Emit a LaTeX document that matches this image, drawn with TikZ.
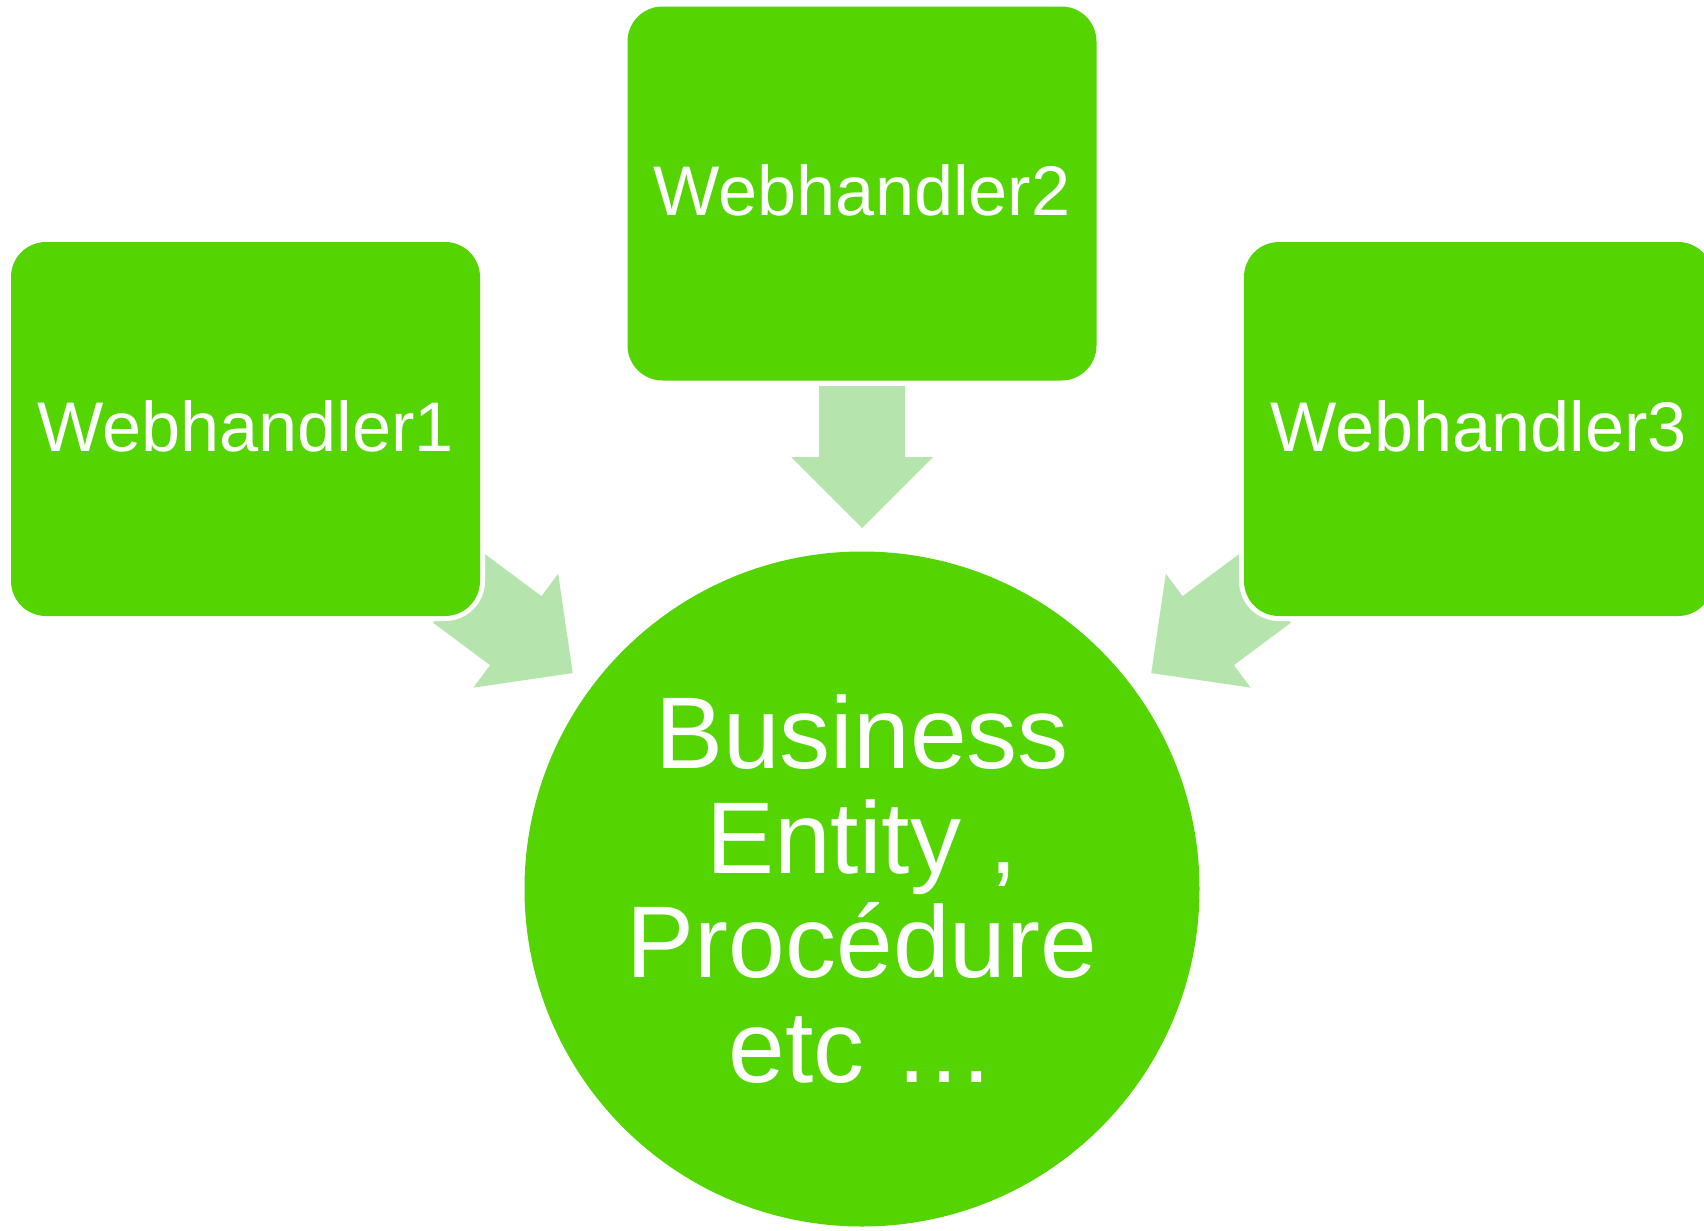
\documentclass[tikz,border=0pt]{standalone}
\usepackage{fontspec}
\setmainfont{Liberation Sans}
\usetikzlibrary{calc}
\definecolor{boxgreen}{RGB}{84,212,0}
\definecolor{arrowgreen}{RGB}{181,229,173}
\begin{document}
\begin{tikzpicture}[
  handler/.style={rectangle, rounded corners=0.7cm, fill=boxgreen,
    preaction={draw=white, line width=0.2cm},
    minimum width=9.38cm, minimum height=7.48cm, inner sep=0pt,
    text=white, text depth=0.13cm, font=\fontsize{40}{48}\selectfont},
  hub/.style={circle, fill=boxgreen, preaction={draw=white, line width=0.2cm},
    minimum size=13.5cm, inner sep=0pt,
    text=white, align=center, font=\fontsize{58}{59.6}\selectfont},
  blockarrow/.style={fill=arrowgreen}
]
\clip (0,0) rectangle (34.08,-24.62);
\fill[white] (0,0) rectangle (34.08,-24.62);
\coordinate (c) at (17.24,-17.78);
\coordinate (p1) at (4.91,-8.58);
\coordinate (p2) at (17.24,-3.87);
\coordinate (p3) at (29.57,-8.58);
% block arrows
\begin{scope}[shift={($(c)!8.64cm!(p1)$)}, rotate=-36.67]
  \fill[blockarrow] (-1.42,0.86) -- (0,0.86) -- (0,1.42) -- (1.42,0) -- (0,-1.42) -- (0,-0.86) -- (-1.42,-0.86) -- cycle;
\end{scope}
\begin{scope}[shift={($(c)!8.64cm!(p2)$)}, rotate=-90]
  \fill[blockarrow] (-1.42,0.86) -- (0,0.86) -- (0,1.42) -- (1.42,0) -- (0,-1.42) -- (0,-0.86) -- (-1.42,-0.86) -- cycle;
\end{scope}
\begin{scope}[shift={($(c)!8.64cm!(p3)$)}, rotate=-143.33]
  \fill[blockarrow] (-1.42,0.86) -- (0,0.86) -- (0,1.42) -- (1.42,0) -- (0,-1.42) -- (0,-0.86) -- (-1.42,-0.86) -- cycle;
\end{scope}
% nodes
\node[handler] (b1) at (p1) {Webhandler1};
\node[handler] (b2) at (p2) {Webhandler2};
\node[handler] (b3) at (p3) {Webhandler3};
\node[hub] (hub) at (c) {Business\\Entity ,\\Procédure\\etc …};
\end{tikzpicture}
\end{document}
